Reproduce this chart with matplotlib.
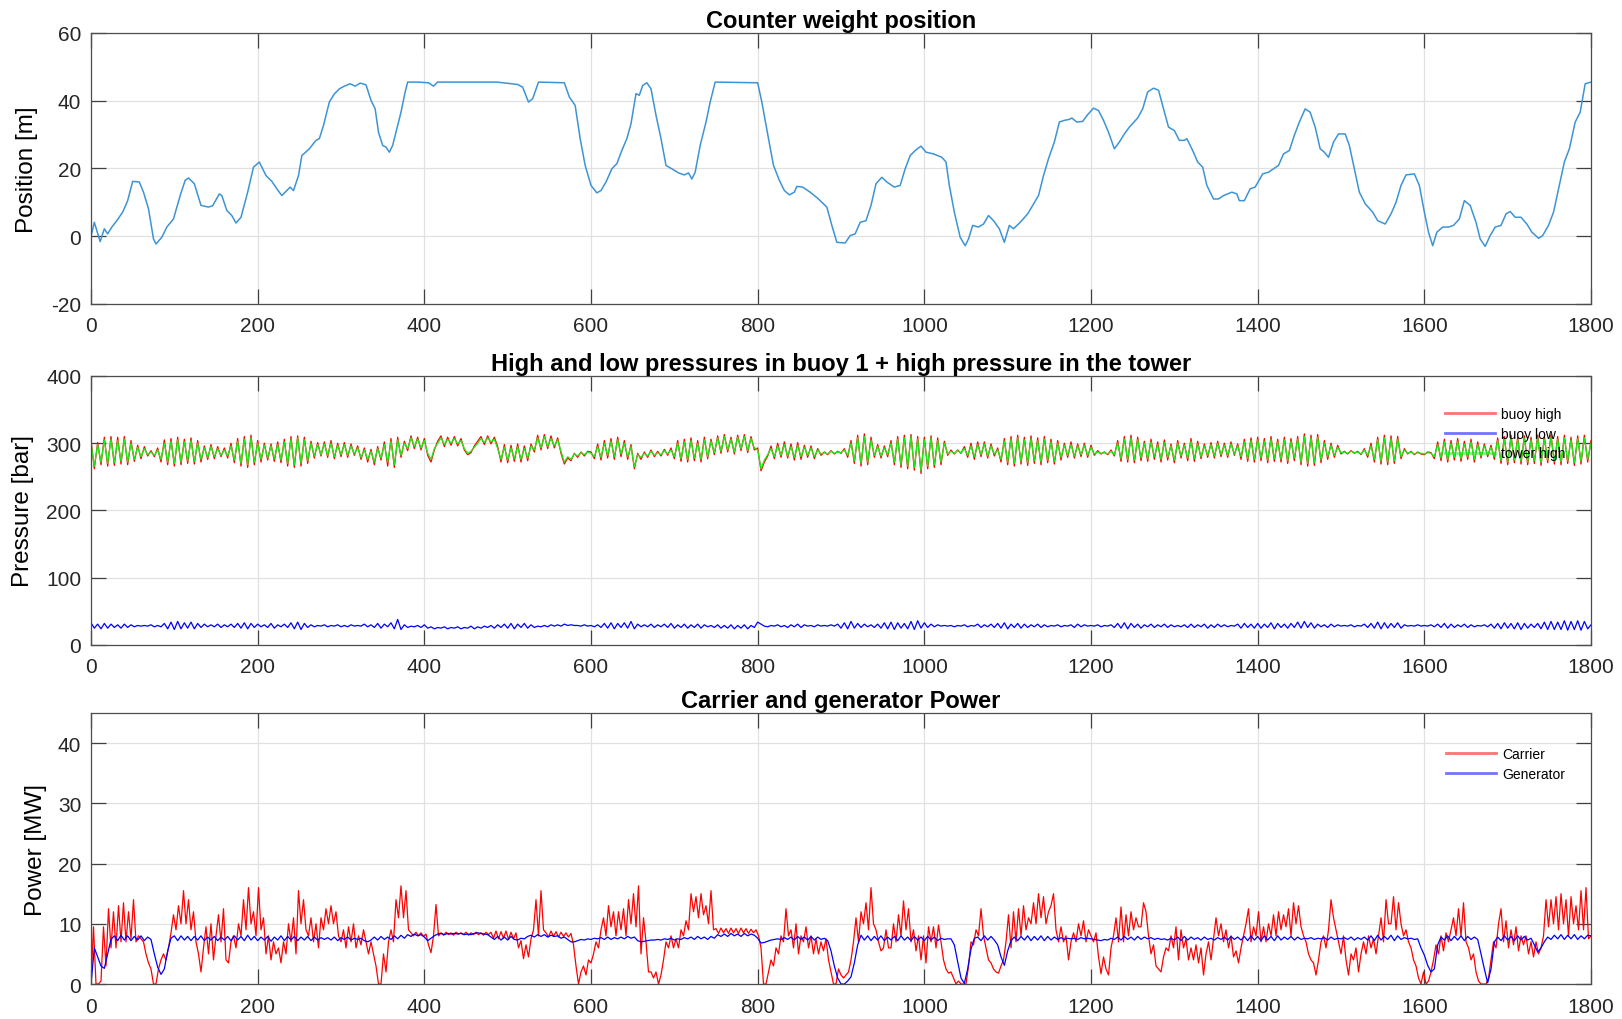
import numpy as np
import matplotlib
matplotlib.use('Agg')
import matplotlib.pyplot as plt

plt.rcParams['font.family'] = ['Liberation Sans', 'DejaVu Sans']
plt.rcParams['axes.unicode_minus'] = False

# ---------------- Panel 1: counter weight position ----------------
pos_t = [0, 4, 11, 16, 20, 25, 31, 38, 44, 50, 58, 63, 69, 75, 78, 85, 91, 99, 107, 113,
         117, 124, 132, 141, 146, 154, 157, 163, 169, 174, 180, 188, 195, 202, 210, 217, 223, 229, 235, 239,
         243, 249, 253, 262, 270, 274, 279, 286, 292, 298, 304, 311, 317, 323, 330, 336, 341, 345, 350, 354,
         358, 362, 367, 372, 377, 380, 392, 405, 411, 416, 455, 487, 512, 518, 525, 530, 537, 568, 574, 581,
         587, 593, 600, 607, 612, 618, 625, 631, 637, 643, 648, 654, 658, 662, 667, 672, 678, 684, 690, 697,
         705, 712, 717, 721, 725, 731, 738, 743, 749, 800, 805, 813, 819, 826, 832, 838, 844, 847, 854, 863,
         872, 883, 889, 895, 905, 911, 917, 923, 930, 936, 942, 949, 955, 964, 971, 977, 983, 989, 996, 1002,
         1011, 1021, 1026, 1030, 1036, 1043, 1049, 1053, 1058, 1065, 1071, 1077, 1083, 1090, 1096, 1102, 1107, 1115, 1124, 1130,
         1137, 1143, 1149, 1156, 1162, 1168, 1174, 1177, 1183, 1190, 1196, 1203, 1209, 1215, 1221, 1228, 1234, 1240, 1246, 1256,
         1262, 1268, 1275, 1281, 1287, 1293, 1300, 1306, 1312, 1315, 1322, 1328, 1334, 1339, 1347, 1353, 1359, 1369, 1375, 1378,
         1384, 1391, 1397, 1406, 1413, 1419, 1425, 1431, 1438, 1444, 1450, 1457, 1463, 1469, 1475, 1480, 1485, 1491, 1497, 1505,
         1510, 1516, 1522, 1529, 1538, 1544, 1553, 1560, 1566, 1572, 1578, 1588, 1594, 1600, 1605, 1610, 1615, 1622, 1629, 1635,
         1642, 1648, 1655, 1662, 1667, 1673, 1679, 1685, 1692, 1698, 1703, 1709, 1716, 1723, 1729, 1737, 1742, 1749, 1755, 1762,
         1768, 1774, 1781, 1787, 1793, 1800]
pos_m = [0, 4.1, -1.6, 2.2, 0.7, 2.7, 4.6, 7.1, 10.5, 16.2, 16, 13, 8.1, -0.8, -2.3, -0.3, 2.7, 5.1, 12, 16.5,
         17.2, 15.5, 9.1, 8.6, 9, 12.5, 12, 7.6, 6.1, 3.9, 5.6, 13, 20.4, 21.9, 17.9, 16.2, 14, 12, 13.5, 14.5,
         13.5, 17.9, 23.8, 25.8, 28.3, 28.8, 32.7, 39.6, 42, 43.5, 44.3, 45, 44.3, 45.2, 44.7, 40.1, 37.6, 30.7, 26.8, 26.3,
         24.8, 26.8, 31.7, 36.6, 42.6, 45.5, 45.5, 45.3, 44.3, 45.5, 45.5, 45.5, 44.8, 44, 39.6, 40.6, 45.5, 45.3, 41.1, 38.6,
         28.8, 20.9, 15, 12.8, 13.5, 16, 19.9, 21.4, 25.3, 28.8, 33.2, 42.1, 41.6, 44.5, 45.3, 43.5, 35.7, 28.8, 20.9, 19.9,
         18.7, 18.1, 18.7, 16.9, 18.9, 26.8, 33.7, 39.6, 45.5, 45.3, 39.6, 28.8, 20.9, 16.5, 13.5, 12.2, 13, 14.7, 14.5, 13,
         11.2, 8.6, 3.2, -1.8, -2, 0.2, 0.7, 4.1, 4.6, 9.1, 15.5, 17.4, 16, 14.5, 15, 19.9, 23.8, 25.3, 26.6, 24.8,
         24.3, 23.3, 21.9, 15, 7.1, -0.3, -2.8, -0.8, 3.2, 2.7, 3.6, 6.1, 4.6, 2.2, -1.8, 3.2, 2.2, 4.1, 6.6, 9.1,
         12, 17.9, 22.9, 27.8, 33.7, 34.2, 34.5, 34.9, 33.7, 33.9, 35.9, 37.8, 37.1, 34.2, 30.7, 25.8, 27.8, 30.2, 32.2, 34.9,
         37.6, 42.6, 43.7, 43.1, 37.6, 32.2, 31.2, 28.3, 28.3, 28.8, 25.3, 21.9, 20.4, 15, 11, 11, 12, 13, 12.5, 10.5,
         10.5, 14, 14.5, 18.4, 18.9, 19.9, 20.9, 24.3, 25.3, 29.8, 33.7, 37.6, 36.6, 32.2, 25.8, 24.8, 23.3, 27.8, 30.2, 30.2,
         26.8, 19.9, 13, 9.6, 7.1, 4.6, 3.6, 6.6, 10, 15, 18.1, 18.4, 15, 7.1, 1.2, -2.8, 1.2, 2.7, 2.7, 3.2,
         5.1, 10.5, 9.1, 4.1, -0.8, -3, 0.2, 2.7, 3.2, 6.6, 7.3, 5.6, 5.6, 3.6, 1.2, -0.6, 0.2, 3.2, 7.1, 15,
         21.9, 25.8, 33.7, 36.6, 45, 45.5]

# ---------------- Panel 2: pressures, one value every 4 s ----------------
p_step = 4
tower_high = [
    300, 266, 298, 272, 305, 270, 306, 271, 304, 273,
    306, 272, 300, 276, 294, 280, 292, 283, 287, 282,
    290, 276, 300, 272, 303, 270, 305, 272, 302, 274,
    304, 273, 300, 276, 293, 279, 295, 280, 292, 282,
    290, 281, 296, 275, 303, 270, 306, 268, 308, 272,
    300, 276, 297, 278, 296, 277, 298, 275, 302, 270,
    306, 268, 308, 270, 305, 274, 300, 281, 298, 283,
    299, 282, 300, 280, 297, 283, 298, 282, 296, 284,
    293, 279, 290, 276, 288, 272, 292, 278, 298, 272,
    303, 268, 305, 282, 300, 292, 308, 295, 306, 293,
    304, 285, 276, 292, 300, 308, 298, 306, 300, 307,
    299, 304, 292, 285, 288, 294, 300, 307, 301, 308,
    302, 306, 292, 276, 294, 275, 293, 277, 295, 276,
    292, 278, 296, 290, 308, 293, 310, 295, 307, 296,
    305, 288, 272, 280, 276, 284, 281, 286, 283, 287,
    285, 280, 295, 279, 300, 282, 303, 280, 305, 284,
    300, 280, 295, 265, 283, 279, 285, 281, 288, 282,
    286, 283, 289, 284, 290, 280, 300, 277, 302, 276,
    304, 278, 300, 276, 305, 280, 303, 286, 308, 288,
    310, 290, 306, 287, 309, 292, 310, 289, 307, 293,
    290, 262, 275, 283, 292, 280, 296, 282, 298, 281,
    295, 279, 297, 280, 294, 282, 293, 280, 290, 284,
    286, 284, 288, 285, 287, 286, 290, 282, 300, 274,
    308, 270, 310, 272, 305, 282, 295, 281, 293, 283,
    300, 272, 306, 268, 308, 266, 310, 264, 306, 259,
    305, 266, 308, 268, 304, 272, 300, 284, 288, 285,
    289, 286, 292, 282, 296, 280, 298, 283, 299, 281,
    296, 284, 290, 276, 303, 272, 306, 270, 308, 273,
    305, 271, 307, 274, 304, 272, 306, 275, 302, 273,
    300, 279, 297, 282, 298, 281, 296, 283, 297, 282,
    294, 284, 287, 285, 286, 284, 288, 283, 300, 277,
    306, 276, 308, 275, 305, 278, 300, 277, 302, 280,
    298, 276, 301, 279, 296, 275, 300, 281, 297, 278,
    303, 277, 299, 280, 296, 282, 298, 281, 300, 283,
    297, 282, 299, 284, 296, 280, 302, 277, 304, 276,
    305, 278, 303, 275, 306, 277, 302, 276, 305, 274,
    303, 278, 306, 272, 310, 270, 308, 271, 309, 275,
    300, 280, 297, 282, 294, 286, 287, 285, 288, 286,
    287, 284, 290, 282, 296, 276, 305, 273, 308, 272,
    307, 274, 306, 280, 290, 285, 287, 284, 286, 285,
    284, 286, 285, 280, 298, 278, 302, 276, 300, 279,
    303, 277, 299, 280, 302, 276, 298, 281, 296, 283,
    294, 280, 304, 274, 306, 272, 308, 275, 305, 273,
    307, 272, 305, 274, 308, 271, 306, 275, 309, 273,
    306, 272, 308, 274, 305, 271, 307, 273, 308, 276,
    300]
buoy_high = [
    305, 262, 301, 268, 309, 266, 310, 267, 309, 269,
    310, 268, 304, 273, 297, 277, 295, 281, 289, 280,
    293, 272, 305, 268, 307, 266, 309, 268, 306, 270,
    308, 269, 304, 272, 296, 276, 298, 277, 295, 280,
    293, 278, 300, 271, 307, 266, 310, 264, 312, 268,
    304, 272, 300, 275, 299, 273, 302, 271, 306, 266,
    310, 264, 311, 266, 309, 270, 303, 278, 301, 281,
    302, 279, 304, 277, 300, 280, 301, 279, 299, 282,
    296, 276, 293, 272, 291, 268, 295, 275, 302, 266,
    307, 264, 309, 279, 303, 289, 311, 292, 309, 290,
    307, 282, 272, 290, 303, 311, 295, 309, 297, 310,
    296, 307, 290, 283, 286, 296, 303, 310, 298, 311,
    299, 309, 295, 272, 298, 271, 297, 273, 299, 272,
    296, 274, 299, 287, 312, 290, 313, 292, 311, 293,
    308, 285, 269, 278, 274, 285, 279, 287, 281, 288,
    287, 277, 299, 275, 304, 278, 307, 276, 309, 280,
    304, 276, 298, 262, 285, 276, 287, 279, 290, 280,
    288, 281, 291, 282, 293, 277, 304, 273, 306, 272,
    308, 274, 304, 272, 309, 277, 306, 283, 311, 285,
    313, 287, 309, 284, 312, 289, 313, 286, 310, 290,
    293, 259, 272, 281, 296, 277, 300, 279, 302, 278,
    299, 275, 301, 276, 297, 279, 296, 277, 292, 282,
    287, 283, 289, 284, 288, 285, 292, 279, 304, 270,
    312, 266, 314, 268, 309, 279, 298, 278, 296, 280,
    304, 268, 310, 264, 312, 262, 313, 260, 310, 255,
    309, 262, 311, 264, 308, 268, 303, 282, 290, 284,
    290, 285, 295, 279, 300, 276, 302, 280, 302, 278,
    299, 281, 293, 272, 307, 268, 310, 266, 312, 269,
    309, 267, 311, 270, 308, 268, 310, 271, 306, 269,
    304, 275, 300, 279, 302, 278, 299, 280, 300, 279,
    297, 282, 289, 284, 287, 283, 290, 281, 304, 273,
    310, 272, 312, 271, 309, 274, 303, 273, 306, 276,
    302, 272, 305, 275, 299, 271, 304, 278, 300, 274,
    307, 273, 303, 277, 299, 279, 301, 278, 303, 280,
    300, 279, 302, 282, 299, 276, 306, 273, 308, 272,
    309, 274, 307, 271, 310, 273, 306, 272, 309, 270,
    307, 274, 310, 268, 314, 266, 312, 267, 313, 271,
    304, 276, 300, 279, 297, 284, 288, 284, 289, 285,
    288, 283, 292, 279, 300, 272, 309, 269, 312, 268,
    311, 270, 310, 277, 292, 284, 288, 283, 287, 284,
    283, 287, 286, 277, 302, 274, 306, 272, 304, 275,
    307, 273, 303, 276, 306, 272, 302, 278, 299, 280,
    297, 276, 308, 270, 310, 268, 312, 271, 309, 269,
    311, 268, 309, 270, 312, 267, 310, 271, 313, 269,
    310, 268, 312, 270, 309, 267, 311, 269, 312, 272,
    304]
buoy_low = [
    33, 25, 31, 24, 32, 25, 31, 26, 30, 25,
    31, 26, 30, 27, 29, 28, 29, 28, 30, 27,
    29, 27, 32, 24, 34, 23, 35, 24, 33, 25,
    34, 24, 32, 26, 31, 27, 30, 27, 31, 26,
    30, 27, 31, 26, 32, 25, 33, 24, 32, 26,
    31, 27, 30, 26, 32, 25, 30, 27, 31, 26,
    33, 24, 34, 23, 32, 26, 30, 27, 29, 28,
    30, 27, 29, 28, 30, 27, 29, 27, 30, 28,
    29, 28, 31, 27, 30, 26, 32, 25, 31, 27,
    33, 24, 38, 23, 30, 26, 28, 27, 29, 26,
    30, 25, 27, 24, 26, 25, 27, 24, 26, 25,
    27, 24, 26, 25, 28, 24, 27, 25, 28, 26,
    29, 25, 30, 26, 31, 25, 32, 24, 31, 26,
    32, 25, 30, 26, 28, 27, 29, 27, 30, 28,
    30, 28, 31, 29, 30, 29, 29, 28, 30, 28,
    29, 27, 30, 26, 32, 25, 33, 24, 32, 26,
    33, 25, 35, 24, 31, 27, 30, 27, 31, 26,
    30, 27, 31, 26, 32, 25, 30, 26, 31, 25,
    30, 26, 31, 25, 30, 27, 29, 26, 30, 25,
    29, 25, 30, 24, 29, 25, 30, 24, 29, 26,
    34, 31, 28, 27, 29, 28, 30, 27, 29, 26,
    30, 27, 31, 26, 30, 28, 29, 27, 30, 28,
    29, 28, 30, 28, 31, 25, 33, 24, 35, 25,
    32, 26, 31, 27, 30, 26, 31, 25, 33, 24,
    34, 23, 33, 25, 32, 24, 35, 23, 36, 25,
    33, 26, 31, 27, 30, 28, 29, 28, 29, 27,
    29, 28, 30, 27, 29, 28, 31, 26, 30, 27,
    31, 26, 32, 25, 33, 24, 31, 26, 32, 25,
    31, 26, 30, 27, 31, 26, 30, 27, 29, 28,
    30, 27, 29, 28, 30, 26, 31, 27, 30, 28,
    29, 28, 30, 27, 29, 28, 30, 26, 32, 25,
    33, 24, 32, 26, 31, 25, 30, 27, 31, 26,
    30, 27, 31, 26, 30, 27, 29, 27, 30, 26,
    31, 26, 30, 27, 31, 25, 30, 26, 31, 27,
    30, 27, 29, 28, 31, 25, 32, 26, 31, 25,
    32, 25, 31, 26, 33, 24, 32, 26, 31, 25,
    32, 26, 34, 25, 35, 26, 33, 25, 31, 27,
    30, 26, 31, 27, 30, 28, 29, 28, 30, 27,
    29, 28, 31, 26, 32, 25, 34, 24, 33, 25,
    32, 26, 33, 25, 30, 28, 29, 28, 30, 28,
    29, 28, 30, 27, 31, 26, 32, 25, 31, 26,
    30, 27, 31, 26, 30, 27, 29, 28, 30, 27,
    31, 25, 32, 24, 33, 25, 32, 24, 33, 23,
    32, 25, 31, 26, 32, 24, 34, 23, 35, 23,
    34, 23, 36, 22, 35, 23, 36, 22, 35, 24,
    30]

# ---------------- Panel 3: power ----------------
carrier_step = 3
carrier = [
    0, 9.5, 0, 0, 0.5, 9.5, 3, 12.5, 6, 12, 6, 13, 7, 13.5, 7, 12, 7.5, 14, 7, 8,
    7.5, 7, 5, 3.5, 2.5, 0, 0, 2.5, 4, 5, 4, 6, 8.5, 11.5, 9, 13, 10, 15.5, 10, 14,
    9, 12, 7, 5, 2, 6, 9.5, 5, 10, 4, 8, 11.5, 7, 12.5, 4, 3.5, 7, 8, 6, 10,
    8, 14, 9, 16, 10, 12, 8, 16, 9, 11, 5, 8, 4, 7, 5, 6, 3.5, 7, 5, 10,
    7, 11, 5, 15.5, 10, 14, 9, 8, 11, 7, 10, 6, 11, 9, 12.5, 10, 13, 10, 12, 8,
    7, 9, 6, 9.5, 7, 10, 6, 8, 6.5, 9, 7, 5, 7, 5, 3, 0, 0, 5, 2, 7,
    9, 7, 14, 11, 16.3, 11, 15.5, 9, 8.5, 8, 8.6, 8, 8.5, 7.9, 8.3, 6.5, 5.2, 8, 13.2, 8,
    8.5, 8.1, 8.6, 8.2, 8.5, 8.1, 8.6, 8.3, 8.5, 8.2, 8.6, 8.1, 8.5, 8.2, 8.6, 8.2, 8.5, 8.1, 8.6, 8.2,
    8.6, 7.6, 8.8, 7.5, 8.7, 7.6, 8.8, 7.4, 8.6, 7.5, 8.5, 6.0, 7.2, 4.2, 6.5, 4.5, 7.5, 9.0, 14.0, 8.0,
    15.5, 9, 8.5, 7.8, 8.8, 7.9, 8.7, 7.8, 8.6, 7.9, 8.5, 7.8, 8.4, 6.5, 3, 0, 2, 3, 1.5, 4,
    3.5, 5, 7, 6, 9, 11, 8, 13, 9.5, 12, 8, 12, 9, 12.5, 8, 14, 10, 15, 9.5, 16.3,
    5, 11, 7, 2, 2, 1, 2, 0, 1.5, 4, 7, 6, 8, 6, 7.5, 6, 9, 8, 10.5, 9,
    15, 12, 14.5, 11, 15, 11.5, 13, 10, 15.5, 9, 9.2, 8.4, 9.3, 8.5, 9.2, 8.4, 9.3, 8.5, 9.2, 8.4,
    9.3, 8.5, 9.2, 8.4, 9.1, 8.5, 9.0, 8.0, 6, 0, 0, 2, 4, 3, 6, 5, 8, 7, 12.5, 8,
    9, 6, 10, 5, 8, 7, 9.5, 6, 8, 5, 7.5, 5, 7, 5.5, 7.5, 4, 2, 0, 0, 2.5,
    1.5, 1, 1.5, 2, 4, 7, 11, 7, 12, 10, 13.5, 9, 16, 10, 9, 7, 5.5, 6, 9, 6,
    6, 10, 7, 11.5, 8, 13.8, 9, 12.5, 7, 9, 5.5, 8, 4, 8, 3.5, 9.5, 7, 9.5, 6, 9.8,
    7, 4, 2.5, 1.8, 2, 1, 0, 0.5, 0, 0, 0, 3, 7, 6.5, 9, 8, 12.5, 8, 6, 4,
    3.5, 2.5, 2, 1.8, 3, 4, 7, 11.5, 6, 12, 7, 12.5, 8, 13, 9, 11, 10, 13.5, 10, 15,
    11, 14.5, 10, 12, 13, 15, 9, 7, 9.5, 7, 8, 4, 7, 8.5, 7, 10, 8, 10.5, 7, 9,
    8, 7, 8.5, 4.5, 1.7, 4.5, 2.5, 1.5, 6, 8, 11, 7, 12.8, 7, 11.5, 8, 12, 9, 11, 9.5,
    9.5, 13.5, 12, 8, 5, 6.5, 3, 2.5, 2, 4.5, 6, 5.5, 8, 6, 9.5, 4, 9, 6, 7.5, 4,
    6, 4, 6.5, 3.5, 6, 1.5, 5, 7, 4, 7.5, 11, 8, 10, 7, 9, 6, 8, 4.5, 5.5, 3.5,
    6, 8, 10, 12.5, 7, 9.5, 8, 12, 7, 9.5, 7, 10, 8, 11.5, 8, 12, 9, 11.5, 9.5, 12.5,
    8, 13.5, 10, 13, 9.5, 8, 7, 5, 4, 3.5, 1.5, 4, 7, 8, 6, 9, 14, 11, 9, 7,
    5, 8, 4, 1.5, 5, 4, 6, 2, 5, 7, 5, 8, 6, 7.5, 5, 8, 11, 7, 14, 10,
    10, 14.5, 9, 13.5, 10, 8, 9, 7, 6, 4, 3, 1, 0, 2, 0, 0.5, 2, 4, 6.5, 5,
    8, 5.5, 8.5, 7, 9, 11, 8, 12.5, 8, 13.5, 7, 6, 4, 5, 2, 0.5, 0, 0, 0, 1,
    4, 7, 6, 10, 12.5, 7, 10.5, 6, 9, 6.5, 9.5, 5.5, 8, 6.5, 8, 5, 7, 4.5, 7, 5,
    6, 8, 14, 9.5, 14, 10, 14.5, 9, 15, 10, 14, 8, 14.5, 10, 13, 9, 15.5, 9, 16, 7.5,
    8]
gen_step = 4
generator = [
    0, 6.0, 4.5, 3.0, 2.6, 5.0, 7.4, 8.0, 7.2, 8.1,
    7.3, 8.0, 7.2, 7.9, 7.3, 8.0, 7.2, 7.8, 7.4, 5.0,
    2.8, 1.6, 2.5, 5.5, 7.6, 8.0, 7.2, 8.0, 7.3, 7.9,
    7.2, 7.9, 7.3, 8.0, 7.2, 7.8, 7.3, 7.9, 7.2, 7.8,
    7.3, 7.9, 7.2, 8.0, 7.3, 7.9, 7.2, 8.1, 7.3, 7.9,
    7.2, 7.8, 7.3, 7.9, 7.1, 7.8, 7.3, 8.0, 7.2, 7.9,
    7.3, 7.9, 7.2, 7.8, 7.3, 7.9, 7.2, 7.8, 7.3, 7.7,
    7.4, 7.7, 7.3, 7.8, 7.2, 7.7, 7.4, 7.8, 7.3, 7.6,
    7.4, 7.6, 7.2, 7.0, 7.3, 7.8, 7.3, 7.9, 7.4, 7.8,
    7.4, 8.0, 7.5, 8.1, 7.6, 8.2, 7.9, 8.3, 8.0, 8.2,
    7.8, 7.2, 7.6, 8.0, 8.3, 8.4, 8.2, 8.4, 8.3, 8.4,
    8.3, 8.4, 8.2, 8.3, 8.2, 8.4, 8.5, 8.4, 8.3, 8.2,
    7.8, 7.4, 7.9, 7.3, 7.8, 7.3, 7.9, 7.4, 7.3, 7.6,
    7.5, 7.9, 8.1, 7.8, 8.2, 7.9, 8.2, 7.8, 8.1, 7.9,
    8.0, 7.6, 7.8, 7.4, 7.0, 7.0, 7.2, 7.4, 7.3, 7.5,
    7.4, 7.6, 7.5, 7.7, 7.4, 7.8, 7.4, 7.7, 7.5, 7.8,
    7.5, 7.9, 7.6, 7.8, 7.2, 7.0, 7.1, 7.2, 7.3, 7.3,
    7.4, 7.3, 7.5, 7.4, 7.6, 7.3, 7.5, 7.4, 7.7, 7.5,
    7.8, 7.4, 7.9, 7.5, 7.8, 7.4, 7.9, 7.6, 8.2, 7.9,
    8.3, 7.9, 8.4, 8.0, 8.3, 7.9, 8.4, 8.0, 8.3, 8.1,
    7.6, 6.8, 6.9, 7.1, 7.3, 7.4, 7.5, 7.4, 7.7, 7.4,
    7.8, 7.3, 7.9, 7.4, 7.8, 7.3, 7.9, 7.3, 7.8, 7.4,
    7.6, 7.2, 5.5, 3.0, 1.0, 0, 0, 0.5, 1.2, 3.5,
    6.5, 8.1, 7.3, 8.0, 7.2, 7.9, 7.3, 8.0, 7.2, 7.8,
    7.3, 7.9, 7.2, 8.0, 7.3, 7.8, 7.2, 7.9, 7.3, 7.8,
    7.2, 7.9, 7.3, 7.8, 7.2, 7.6, 7.4, 7.5, 7.5, 6.5,
    3.7, 1.0, 0.1, 2.5, 5.8, 7.6, 7.8, 7.2, 8.0, 7.3,
    7.9, 7.3, 6.5, 4.5, 3.1, 5.5, 7.2, 7.8, 7.2, 7.9,
    7.3, 8.0, 7.2, 7.9, 7.3, 8.0, 7.2, 7.9, 7.3, 7.8,
    7.4, 7.7, 7.4, 7.6, 7.5, 7.6, 7.4, 7.7, 7.5, 7.6,
    7.5, 7.4, 7.3, 7.2, 7.4, 7.3, 7.6, 7.4, 7.8, 7.3,
    7.9, 7.4, 7.8, 7.3, 7.9, 7.4, 7.8, 7.5, 7.7, 7.4,
    7.6, 7.4, 7.5, 7.3, 7.6, 7.3, 7.8, 7.2, 7.9, 7.3,
    7.8, 7.4, 7.7, 7.3, 7.8, 7.4, 7.6, 7.3, 7.7, 7.4,
    7.8, 7.3, 7.9, 7.4, 7.8, 7.3, 7.9, 7.2, 8.0, 7.3,
    7.9, 7.2, 8.0, 7.3, 7.9, 7.2, 8.0, 7.3, 7.8, 7.4,
    7.9, 7.3, 7.8, 7.4, 7.6, 7.5, 7.7, 7.4, 7.6, 7.5,
    7.7, 7.3, 7.8, 7.4, 7.6, 7.5, 7.7, 7.4, 7.8, 7.3,
    7.7, 7.4, 7.8, 7.3, 8.0, 7.2, 8.1, 7.3, 7.9, 7.4,
    8.1, 7.2, 8.0, 7.4, 7.7, 7.5, 7.6, 7.4, 7.5, 6.0,
    4.8, 3.1, 2.0, 2.5, 6.5, 7.8, 7.3, 8.0, 7.2, 7.9,
    7.3, 8.0, 7.2, 7.9, 7.4, 7.8, 7.4, 5.0, 2.5, 0.2,
    2.5, 7.0, 7.8, 7.2, 8.0, 7.3, 7.9, 7.2, 8.0, 7.3,
    7.9, 7.3, 7.6, 6.5, 5.3, 6.0, 7.0, 7.8, 7.4, 8.1,
    7.5, 8.2, 7.4, 8.1, 7.5, 8.2, 7.4, 8.0, 7.5, 8.1,
    8.0]

assert len(pos_t) == len(pos_m)
assert len(tower_high) == len(buoy_high) == len(buoy_low) == 451
assert len(carrier) == 601 and len(generator) == 451

t_p = np.arange(len(tower_high)) * p_step
t_c = np.arange(len(carrier)) * carrier_step
t_g = np.arange(len(generator)) * gen_step

fig = plt.figure(figsize=(16.22, 10.20), dpi=100)
fig.patch.set_facecolor('white')

L, W = 0.0561, 0.9248
ax1 = fig.add_axes([L, 0.7010, W, 0.2657])
ax2 = fig.add_axes([L, 0.3667, W, 0.2637])
ax3 = fig.add_axes([L, 0.0343, W, 0.2657])


def style(ax, ylim, yticks):
    ax.set_xlim(0, 1800)
    ax.set_xticks(range(0, 1801, 200))
    ax.set_ylim(*ylim)
    ax.set_yticks(yticks)
    ax.grid(True, color='#e1e1e1', linewidth=0.9)
    ax.set_axisbelow(True)
    ax.tick_params(direction='in', length=10.8, width=0.9, colors='#404040',
                   labelcolor='#262626', labelsize=15, top=True, right=True)
    ax.tick_params(axis='y', pad=7)
    ax.tick_params(axis='x', pad=9)
    for s in ax.spines.values():
        s.set_color('#4d4d4d')
        s.set_linewidth(0.9)


# Panel 1
ax1.plot(pos_t, pos_m, color='#3d94d4', linewidth=1.1)
style(ax1, (-20, 60), [-20, 0, 20, 40, 60])
ax1.set_title('Counter weight position', fontsize=17, fontweight='bold', pad=4)
ax1.set_ylabel('Position [m]', fontsize=17.5)
ax1.yaxis.set_label_coords(-0.0353, 0.5)

# Panel 2
ax2.plot(t_p, buoy_high, color='#ff0000', linewidth=0.9, label='buoy high')
ax2.plot(t_p, buoy_low, color='#0000ff', linewidth=0.9, label='buoy low')
ax2.plot(t_p, tower_high, color='#14f014', linewidth=0.9, label='tower high')
style(ax2, (0, 400), [0, 100, 200, 300, 400])
ax2.set_title('High and low pressures in buoy 1 + high pressure in the tower',
              fontsize=17, fontweight='bold', pad=4)
ax2.set_ylabel('Pressure [bar]', fontsize=17.5)
ax2.yaxis.set_label_coords(-0.038, 0.5)
leg2 = ax2.legend(loc='upper right', bbox_to_anchor=(0.99, 0.925), frameon=False,
                  fontsize=10, handlelength=3.6, handletextpad=0.4, labelspacing=0.4,
                  borderpad=0.3)
for ln in leg2.get_lines():
    ln.set_linewidth(2)
    ln.set_alpha(0.55)

# Panel 3
ax3.plot(t_c, carrier, color='#ff0000', linewidth=0.9, label='Carrier')
ax3.plot(t_g, generator, color='#0000ff', linewidth=0.9, label='Generator')
style(ax3, (0, 45), [0, 10, 20, 30, 40])
ax3.set_title('Carrier and generator Power', fontsize=17, fontweight='bold', pad=4)
ax3.set_ylabel('Power [MW]', fontsize=17.5)
ax3.yaxis.set_label_coords(-0.0293, 0.5)
leg3 = ax3.legend(loc='upper right', bbox_to_anchor=(0.99, 0.915), frameon=False,
                  fontsize=10, handlelength=3.6, handletextpad=0.4, labelspacing=0.4,
                  borderpad=0.3)
for ln in leg3.get_lines():
    ln.set_linewidth(2)
    ln.set_alpha(0.55)

fig.savefig('out.png', dpi=100, facecolor='white')
